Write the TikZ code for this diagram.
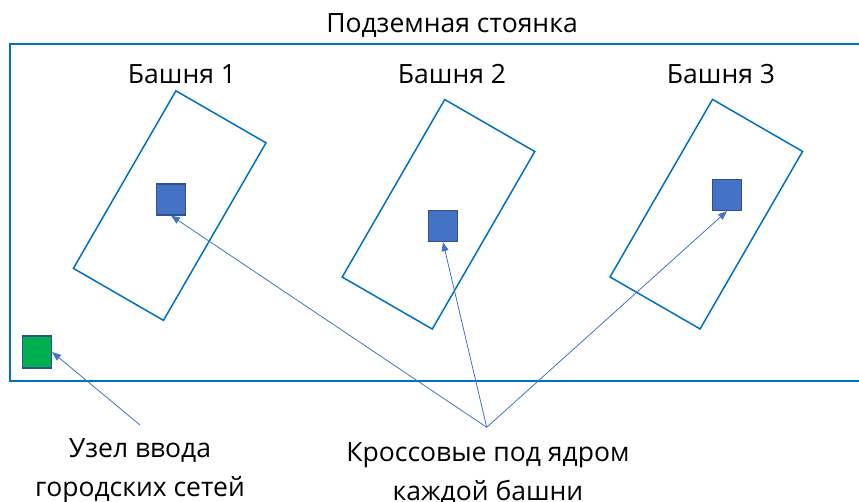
\documentclass[tikz,border=0pt]{standalone}
\usepackage{fontspec}
\setmainfont{Open Sans}
\usetikzlibrary{arrows.meta}
\definecolor{frameblue}{HTML}{0070C0}
\definecolor{fillblue}{HTML}{4472C4}
\definecolor{edgeblue}{HTML}{2F528F}
\definecolor{nodegreen}{HTML}{00B050}
\begin{document}
\begin{tikzpicture}[x=1pt,y=-1pt,
  lbl/.style={font=\fontsize{26.5}{38.5}\selectfont, inner sep=0pt, anchor=base, align=center},
  tower/.style={draw=frameblue, line width=1.5pt, minimum width=104pt, minimum height=205pt, rotate=-30, inner sep=0pt},
  core/.style={draw=edgeblue, fill=fillblue, line width=1.2pt, minimum width=29pt, minimum height=31pt, inner sep=0pt},
  entry/.style={draw=edgeblue, fill=nodegreen, line width=1.2pt, minimum width=29pt, minimum height=32pt, inner sep=0pt},
  link/.style={draw=fillblue, line width=0.8pt, -{Triangle[length=9pt,width=7pt]}}]
\useasboundingbox (0,0) rectangle (859,502);
\clip (0,0) rectangle (859,502);
\fill[white] (0,0) rectangle (859,502);
% parking frame
\node[draw=frameblue, line width=2pt, minimum width=870pt, minimum height=337pt, inner sep=0pt] (parking) at (445,212.5) {};
\node[lbl] (title) at (452,33) {Подземная стоянка};
% towers
\node[tower] (t1) at (169.7,205.6) {};
\node[tower] (t2) at (438.5,214.3) {};
\node[tower] (t3) at (706.3,214.2) {};
\node[lbl] (l1) at (182,84) {Башня 1};
\node[lbl] (l2) at (452,84) {Башня 2};
\node[lbl] (l3) at (721,84) {Башня 3};
% cores
\node[core] (c1) at (171,199.5) {};
\node[core] (c2) at (443,226) {};
\node[core] (c3) at (727,195) {};
\node[entry] (g) at (37,352) {};
% labels (base anchor = last line)
\node[lbl] (gl) at (140,496) {Узел ввода\\городских сетей};
\node[lbl] (cl) at (488,500) {Кроссовые под ядром\\каждой башни};
\coordinate (hub) at (486.7,427.3);
\coordinate (gstart) at (140,425);
% connectors
\draw[link] (hub) -- (c1.south);
\draw[link] (hub) -- (c2.south);
\draw[link] (hub) -- (c3.south);
\draw[link] (gstart) -- (g.east);
\end{tikzpicture}
\end{document}
